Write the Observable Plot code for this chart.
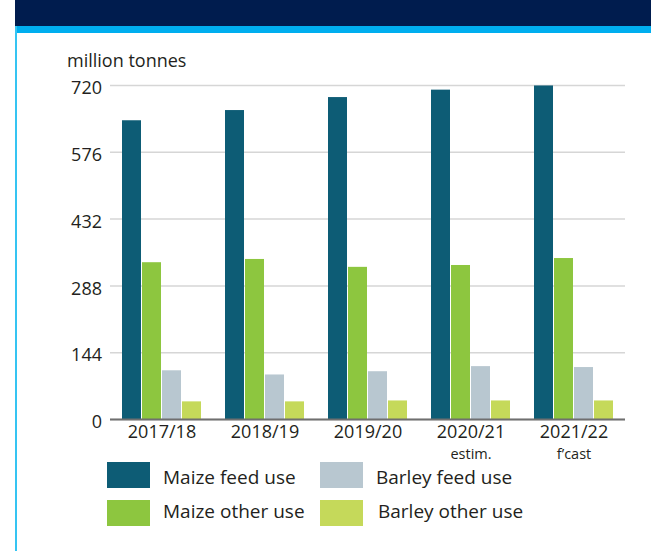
<!DOCTYPE html>
<html>
<head>
<meta charset="utf-8">
<script src="https://cdn.jsdelivr.net/npm/d3@7"></script>
<script src="https://cdn.jsdelivr.net/npm/@observablehq/plot@0.6"></script>
<style>
  html, body { margin: 0; padding: 0; background: #ffffff; }
  #wrap { position: relative; width: 651px; height: 551px; overflow: hidden; font-family: "Open Sans", sans-serif; color: #231f20; }
  #navy { position: absolute; left: 15px; top: 0; width: 636px; height: 26px; background: #001c4e; }
  #cyan { position: absolute; left: 15px; top: 26px; width: 636px; height: 7px; background: #00aeef; }
  #vline { position: absolute; left: 15px; top: 26px; width: 2px; height: 525px; background: #35c4f2; }
  #unit { position: absolute; left: 67px; top: 51px; font-size: 18px; line-height: 18px; white-space: nowrap; }
  #chart { position: absolute; left: 0; top: 0; }
  .sw { position: absolute; width: 43px; height: 26px; }
  .lt { position: absolute; font-size: 19px; line-height: 19px; white-space: nowrap; }
</style>
</head>
<body>
<div id="wrap">
  <div id="navy"></div>
  <div id="cyan"></div>
  <div id="vline"></div>
  <div id="unit">million tonnes</div>
  <div id="chart"></div>
  <div id="legend"></div>
</div>
<script>
const years = ["2017/18", "2018/19", "2019/20", "2020/21", "2021/22"];
const notes = ["", "", "", "estim.", "f\u2019cast"];
const series = ["Maize feed use", "Maize other use", "Barley feed use", "Barley other use"];
const colors = ["#0d5c75", "#8dc63f", "#b8c7d0", "#c5d95a"];
const maizeFeed = [644, 666, 694, 710, 719];
const maizeOther = [338, 345, 328, 332, 347];
const barleyFeed = [105, 96, 103, 114, 112];
const barleyOther = [38, 38, 40, 40, 40];
const yTicks = [0, 144, 288, 432, 576, 720];

const valuesBySeries = [maizeFeed, maizeOther, barleyFeed, barleyOther];
const rows = [];
years.forEach((yr, i) => {
  series.forEach((s, j) => rows.push({year: yr, series: s, value: valuesBySeries[j][i]}));
});
const labelRows = years.map((yr, i) => ({year: yr, label: notes[i] ? yr + "\n" + notes[i] : yr}));

const chart = Plot.plot({
  width: 651,
  height: 465,
  marginLeft: 108,
  marginRight: 24,
  marginTop: 85,
  marginBottom: 46,
  style: {fontFamily: "Open Sans, sans-serif", fontSize: "18px", color: "#231f20", background: "transparent", overflow: "visible"},
  fx: {domain: years, padding: 0, axis: null},
  x: {domain: series, paddingInner: 0.05, paddingOuter: 0.495, axis: null},
  y: {domain: [0, 720], axis: null},
  color: {domain: series, range: colors},
  marks: [
    Plot.gridY(yTicks, {stroke: "#d6d6d6", strokeOpacity: 1, strokeWidth: 1.5}),
    Plot.axisY(yTicks, {tickSize: 0, tickPadding: 8.5, dy: 3, label: null, fontSize: 18}),
    Plot.barY(rows, {fx: "year", x: "series", y: "value", fill: "series"}),
    Plot.ruleY([0], {stroke: "#6f6f6f", strokeWidth: 2}),
    Plot.text(labelRows, {fx: "year", text: "label", frameAnchor: "bottom", lineAnchor: "top", lineHeight: 0.89, dy: 6.7, fontSize: 18, fill: "#231f20"})
  ]
});
document.getElementById("chart").appendChild(chart);

// second line of the x labels ("estim.", "f'cast") is set in a smaller size
chart.querySelectorAll("text").forEach(t => {
  const spans = t.querySelectorAll("tspan");
  if (spans.length === 2) {
    spans[1].setAttribute("font-size", "14.5px");
    spans[1].setAttribute("dy", "21px");
  }
});

// legend built from the series/colour arrays
const legend = document.getElementById("legend");
const legendCols = [107, 320];
const legendSwatchTops = [462, 500];
const legendTextTops = [468, 502];
series.forEach((s, j) => {
  const col = j < 2 ? 0 : 1;
  const row = j % 2;
  const sw = document.createElement("div");
  sw.className = "sw";
  sw.style.left = legendCols[col] + "px";
  sw.style.top = legendSwatchTops[row] + "px";
  sw.style.background = colors[j];
  legend.appendChild(sw);
  const t = document.createElement("div");
  t.className = "lt";
  t.style.left = (legendCols[col] + 56 + (col === 1 && row === 1 ? 2 : 0)) + "px";
  t.style.top = legendTextTops[row] + "px";
  t.textContent = s;
  legend.appendChild(t);
});
</script>
</body>
</html>
